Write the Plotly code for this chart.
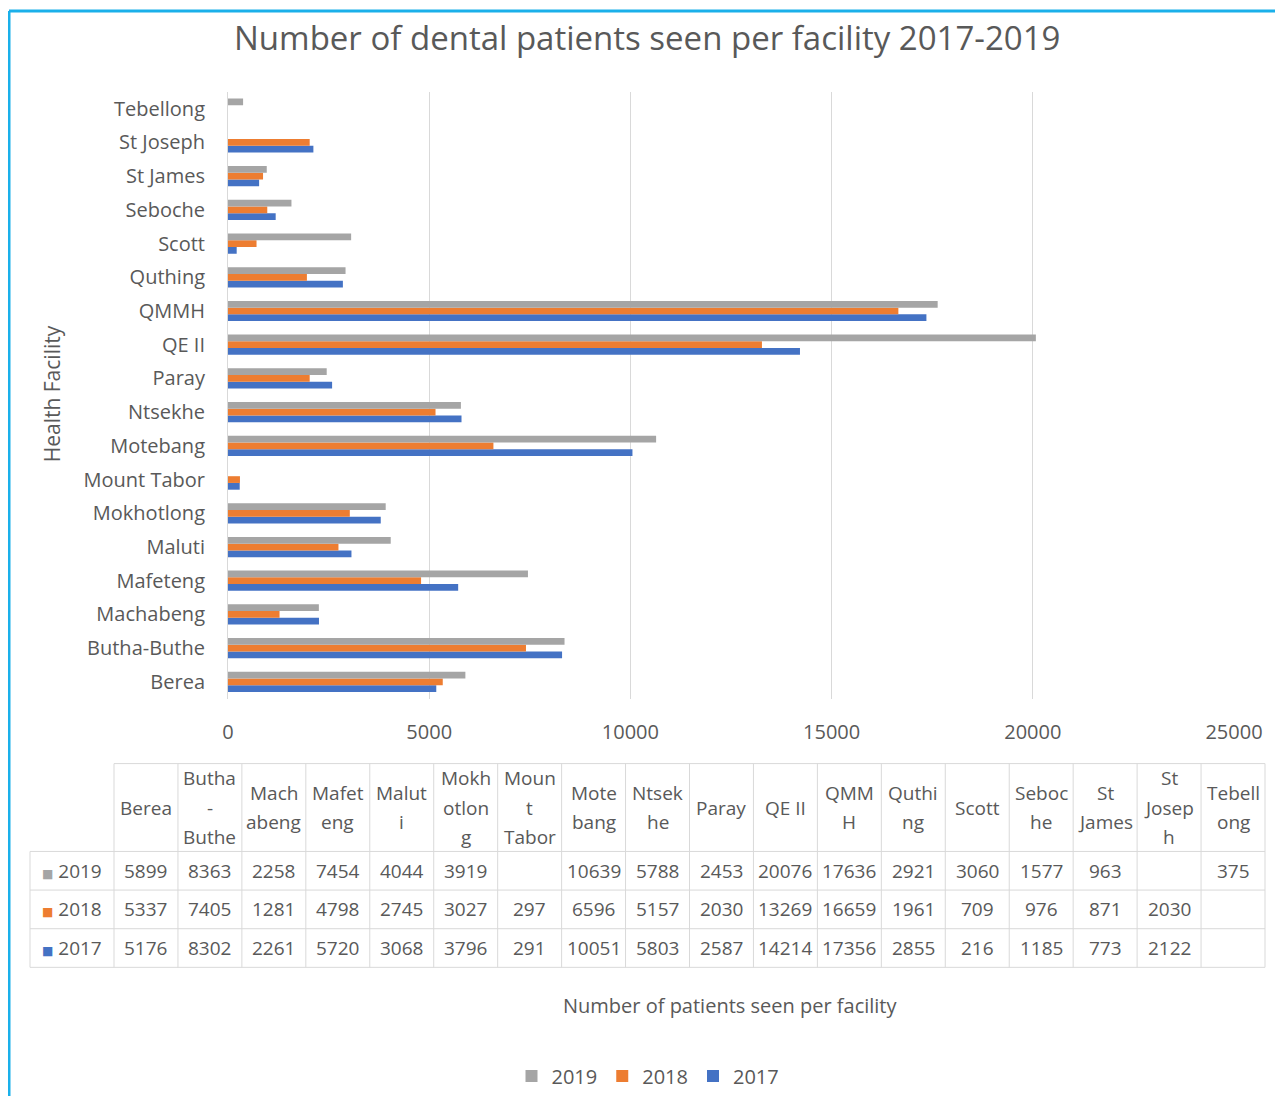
import plotly.graph_objects as go

# ---- data ----
facilities = ["Berea", "Butha-Buthe", "Machabeng", "Mafeteng", "Maluti", "Mokhotlong",
              "Mount Tabor", "Motebang", "Ntsekhe", "Paray", "QE II", "QMMH", "Quthing",
              "Scott", "Seboche", "St James", "St Joseph", "Tebellong"]
header_lines = [["Berea"], ["Butha", "-", "Buthe"], ["Mach", "abeng"], ["Mafet", "eng"],
                ["Malut", "i"], ["Mokh", "otlon", "g"], ["Moun", "t", "Tabor"], ["Mote", "bang"],
                ["Ntsek", "he"], ["Paray"], ["QE II"], ["QMM", "H"], ["Quthi", "ng"], ["Scott"],
                ["Seboc", "he"], ["St", "James"], ["St", "Josep", "h"], ["Tebell", "ong"]]
v2019 = [5899, 8363, 2258, 7454, 4044, 3919, None, 10639, 5788, 2453, 20076, 17636, 2921,
         3060, 1577, 963, None, 375]
v2018 = [5337, 7405, 1281, 4798, 2745, 3027, 297, 6596, 5157, 2030, 13269, 16659, 1961,
         709, 976, 871, 2030, None]
v2017 = [5176, 8302, 2261, 5720, 3068, 3796, 291, 10051, 5803, 2587, 14214, 17356, 2855,
         216, 1185, 773, 2122, None]
years = ["2019", "2018", "2017"]
x_ticks = [0, 5000, 10000, 15000, 20000, 25000]
x_ticktext = ["0", "5000", "10000", "15000", "20000", "25000"]

colors = {"2019": "#A5A5A5", "2018": "#ED7D31", "2017": "#4472C4"}
TXT = "#595959"
GRID = "#D9D9D9"
FONT = "Open Sans"

# ---- page geometry helpers ----
W, H = 1267, 1088
OX, OY = 8, 8
def px(x):
    return (x - OX) / W
def py(y):
    return 1 - (y - OY) / H

fig = go.Figure()
for yr, vals in [("2017", v2017), ("2018", v2018), ("2019", v2019)]:
    fig.add_trace(go.Bar(y=facilities, x=vals, name=yr, orientation="h",
                         marker=dict(color=colors[yr], line=dict(width=0))))

annotations = []
shapes = []

# ---- data table (drawn with lines + text) ----
def fmt(v):
    return "" if v is None else str(v)

rows = {"2019": v2019, "2018": v2018, "2017": v2017}
tx0, tx_first, tx1 = 30, 114, 1265
cw = (tx1 - tx_first) / len(facilities)
hdr_top, hdr_bot = 765, 853
row_h = 38.7
row_tops = [hdr_bot + k * row_h for k in range(len(years) + 1)]

def hline(y, xa, xb):
    shapes.append(dict(type="line", xref="paper", yref="paper", x0=px(xa), x1=px(xb),
                       y0=py(y), y1=py(y), line=dict(color=GRID, width=1)))
def vline(x, ya, yb):
    shapes.append(dict(type="line", xref="paper", yref="paper", x0=px(x), x1=px(x),
                       y0=py(ya), y1=py(yb), line=dict(color=GRID, width=1)))

hline(hdr_top, tx_first, tx1)
for yb in row_tops:
    hline(yb, tx0, tx1)
vline(tx0, hdr_bot, row_tops[-1])
for i in range(len(facilities) + 1):
    vline(tx_first + i * cw, hdr_top, row_tops[-1])

def txt(x, y, t, size=19):
    annotations.append(dict(x=px(x), y=py(y), xref="paper", yref="paper", text=t,
                            showarrow=False, xanchor="center", yanchor="middle",
                            font=dict(family=FONT, size=size, color=TXT)))

for i, lines in enumerate(header_lines):
    cx = tx_first + cw * i + cw / 2
    cy = (hdr_top + hdr_bot) / 2
    n = len(lines)
    for j, t in enumerate(lines):
        txt(cx, cy + (j - (n - 1) / 2) * 29.5, t)

for k, yr in enumerate(years):
    cy = row_tops[k] + row_h / 2
    txt((tx0 + tx_first) / 2,
        cy, '<span style="color:%s;font-family:DejaVu Sans;font-size:12px">■</span> %s'
        % (colors[yr], yr))
    for i, v in enumerate(rows[yr]):
        txt(tx_first + cw * i + cw / 2, cy, fmt(v))

# titles
txt(647, 38, "Number of dental patients seen per facility 2017-2019", size=33)
annotations.append(dict(x=px(52), y=py(395), xref="paper", yref="paper",
                        text="Health Facility", textangle=-90,
                        showarrow=False, xanchor="center", yanchor="middle",
                        font=dict(family=FONT, size=21, color=TXT)))
txt(730, 1007, "Number of patients seen per facility", size=20)

shapes += [
    dict(type="line", xref="paper", yref="paper", x0=px(9), x1=1.02, y0=py(11), y1=py(11),
         line=dict(color="#1AB0EA", width=3)),
    dict(type="line", xref="paper", yref="paper", x0=px(9), x1=px(9), y0=py(11), y1=-0.02,
         line=dict(color="#1AB0EA", width=3)),
]

fig.update_layout(
    width=W, height=H,
    margin=dict(l=0, r=0, t=0, b=0),
    paper_bgcolor="white", plot_bgcolor="white",
    barmode="group", bargap=0.4, bargroupgap=0,
    showlegend=True,
    legend=dict(orientation="h", traceorder="reversed", x=px(648), y=py(1078),
                xanchor="center", yanchor="middle", itemwidth=30,
                font=dict(family=FONT, size=20, color=TXT)),
    xaxis=dict(domain=[px(228), px(1234)], range=[0, 25000], tickvals=x_ticks,
               ticktext=x_ticktext,
               showgrid=True, gridcolor=GRID, gridwidth=1, zeroline=False,
               showline=False, automargin=False,
               tickfont=dict(family=FONT, size=20, color=TXT), ticklabelstandoff=19),
    yaxis=dict(domain=[py(700), py(92)], type="category", categoryorder="array",
               categoryarray=facilities, range=[-0.5, len(facilities) - 0.5],
               showline=True, linecolor=GRID, linewidth=1, showgrid=False,
               automargin=False,
               tickfont=dict(family=FONT, size=20, color=TXT), ticklabelstandoff=18),
    annotations=annotations,
    shapes=shapes,
)

fig.write_html("out.html")
